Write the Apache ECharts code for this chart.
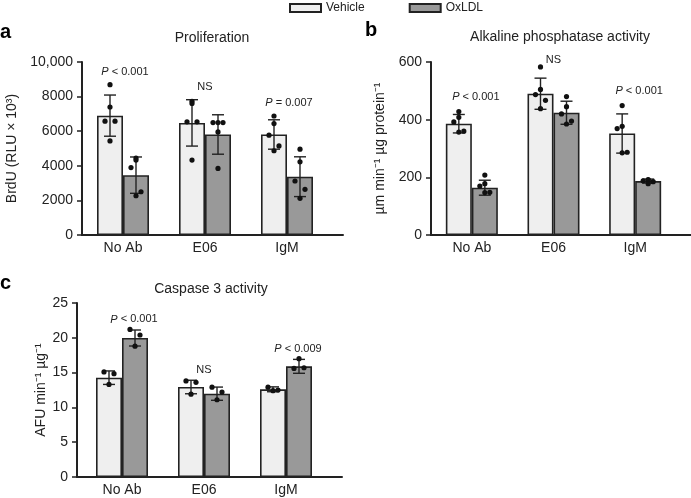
<!DOCTYPE html>
<html lang="en">
<head>
<meta charset="UTF-8">
<title>OxLDL panels</title>
<script src="https://cdn.jsdelivr.net/npm/echarts@6.0.0/dist/echarts.min.js"></script>
<style>
  html, body { margin: 0; padding: 0; background: #fff; }
  #main { width: 691px; height: 498px; }
</style>
</head>
<body>
<div id="main"></div>
<script>
var categories = ['No Ab', 'E06', 'IgM'];

// a: proliferation, BrdU (RLU x 10^3)
var prolifVehicle = [6900, 6480, 5810];
var prolifVehicleSd = [1190, 1340, 850];
var prolifOxldl = [3460, 5810, 3370];
var prolifOxldlSd = [1050, 1140, 1150];
var prolifVehicleDots = [[8690, 7400, 6580, 6580, 5440], [7730, 7600, 6540, 6540, 4330], [6880, 6440, 5770, 5150, 4870]];
var prolifOxldlDots = [[4450, 4330, 3900, 2500, 2270], [6500, 5960, 6500, 6500, 3850], [4960, 4230, 3120, 2640, 2120]];
var prolifStats = ['P < 0.001', 'NS', 'P = 0.007'];

// b: alkaline phosphatase activity
var alpVehicle = [386, 490, 352];
var alpVehicleSd = [32, 54, 68];
var alpOxldl = [164, 424, 187];
var alpOxldlSd = [26, 40, 7];
var alpVehicleDots = [[428, 408, 392, 360, 357], [583, 505, 487, 467, 438], [449, 377, 369, 287, 285]];
var alpOxldlDots = [[208, 178, 170, 148, 147], [480, 445, 420, 395, 385], [192, 190, 188, 185, 178]];
var alpStats = ['P < 0.001', 'NS', 'P < 0.001'];

// c: caspase 3 activity
var caspVehicle = [14.27, 12.93, 12.6];
var caspVehicleSd = [0.97, 0.97, 0.35];
var caspOxldl = [19.97, 11.97, 15.9];
var caspOxldlSd = [1.15, 0.95, 1.0];
var caspVehicleDots = [[15.1, 14.85, 13.3], [13.8, 13.6, 11.9], [12.9, 12.5, 12.4]];
var caspOxldlDots = [[21.2, 20.4, 18.8], [12.9, 12.2, 11.1], [15.6, 15.7, 17.0]];
var caspStats = ['P < 0.001', 'NS', 'P < 0.009'];

var FONT = '"Liberation Sans", Arial, Helvetica, sans-serif';
var INK = '#222';
var BAR_W = 26;
var JIT5 = [0, 0, -5, 5, 0];
var JIT3 = [-5, 5, 0];

var panels = [
  { letter: 'a', title: 'Proliferation', titleX: 212, titleY: 38, letterX: 0, letterY: 32,
    yName: 'BrdU (RLU × 10³)', max: 10000, step: 2000, nameGap: 63,
    veh: prolifVehicle, vehSd: prolifVehicleSd, ox: prolifOxldl, oxSd: prolifOxldlSd,
    vehDots: prolifVehicleDots, oxDots: prolifOxldlDots, stats: prolifStats,
    grid: { left: 82, top: 62, width: 246, height: 173 }, yOffset: 0, axisEnd: 343,
    statGap: 13, statShift: 2 },
  { letter: 'b', title: 'Alkaline phosphatase activity', titleX: 560, titleY: 37, letterX: 365, letterY: 30,
    yName: 'µm min⁻¹ µg protein⁻¹', max: 600, step: 200, nameGap: 44,
    veh: alpVehicle, vehSd: alpVehicleSd, ox: alpOxldl, oxSd: alpOxldlSd,
    vehDots: alpVehicleDots, oxDots: alpOxldlDots, stats: alpStats,
    grid: { left: 431, top: 62, width: 245, height: 173 }, yOffset: 0, axisEnd: 691,
    statGap: 15, statShift: 4 },
  { letter: 'c', title: 'Caspase 3 activity', titleX: 211, titleY: 289, letterX: 0, letterY: 283,
    yName: 'AFU min⁻¹ µg⁻¹', max: 25, step: 5, nameGap: 28,
    veh: caspVehicle, vehSd: caspVehicleSd, ox: caspOxldl, oxSd: caspOxldlSd,
    vehDots: caspVehicleDots, oxDots: caspOxldlDots, stats: caspStats,
    grid: { left: 81, top: 303, width: 246, height: 174 }, yOffset: 4, axisEnd: 342,
    statGap: 10, statShift: 12 }
];

var grids = [], xAxes = [], yAxes = [], series = [], graphics = [];

function markSeries(p, idx, which) {
  var mean = which ? p.ox : p.veh;
  var sd = which ? p.oxSd : p.vehSd;
  var dots = which ? p.oxDots : p.vehDots;
  var shift = which ? BAR_W / 2 : -BAR_W / 2;
  return {
    type: 'custom', xAxisIndex: idx, yAxisIndex: idx, z: 4, silent: true,
    data: mean.map(function (v, i) { return [i, v]; }),
    encode: { x: 0, y: 1 },
    renderItem: function (params, api) {
      var i = params.dataIndex;
      var x = api.coord([i, 0])[0] + shift;
      var yt = api.coord([i, mean[i] + sd[i]])[1];
      var yb = api.coord([i, mean[i] - sd[i]])[1];
      var ls = { stroke: INK, lineWidth: 1.4 };
      var kids = [
        { type: 'line', shape: { x1: x, y1: yt, x2: x, y2: yb }, style: ls },
        { type: 'line', shape: { x1: x - 6, y1: yt, x2: x + 6, y2: yt }, style: ls },
        { type: 'line', shape: { x1: x - 6, y1: yb, x2: x + 6, y2: yb }, style: ls }
      ];
      var jit = dots[i].length === 3 ? JIT3 : JIT5;
      dots[i].forEach(function (v, k) {
        var y = api.coord([i, v])[1];
        kids.push({ type: 'circle', shape: { cx: x + jit[k], cy: y, r: 2.6 }, style: { fill: '#111' } });
      });
      return { type: 'group', children: kids };
    }
  };
}

function statSeries(p, idx) {
  return {
    type: 'custom', xAxisIndex: idx, yAxisIndex: idx, z: 5, silent: true,
    data: p.stats.map(function (s, i) { return [i, p.veh[i]]; }),
    encode: { x: 0, y: 1 },
    renderItem: function (params, api) {
      var i = params.dataIndex;
      var hi = Math.max(p.veh[i] + p.vehSd[i], p.ox[i] + p.oxSd[i],
        Math.max.apply(null, p.vehDots[i]), Math.max.apply(null, p.oxDots[i]));
      var pt = api.coord([i, hi]);
      var topY = api.coord([i, p.max])[1];
      var txt = p.stats[i];
      var isP = txt.charAt(0) === 'P';
      return {
        type: 'text',
        x: pt[0] + (isP ? p.statShift : 0),
        y: Math.max(pt[1] - p.statGap, topY - 2),
        style: {
          text: isP ? '{i|P}' + txt.slice(1) : txt,
          align: 'center', verticalAlign: 'middle',
          fontSize: 11, fontFamily: FONT, fill: INK,
          rich: { i: { fontStyle: 'italic', fontSize: 11, fontFamily: FONT, color: INK } }
        }
      };
    }
  };
}

panels.forEach(function (p, idx) {
  grids[idx] = { left: p.grid.left, top: p.grid.top, width: p.grid.width, height: p.grid.height,
    containLabel: false, outerBoundsMode: 'none' };
  // helper grid that only carries the longer baseline
  grids[idx + 3] = { left: p.grid.left - p.yOffset, top: p.grid.top,
    width: p.axisEnd - (p.grid.left - p.yOffset), height: p.grid.height,
    containLabel: false, outerBoundsMode: 'none' };

  xAxes[idx] = {
    gridIndex: idx, type: 'category', data: categories,
    axisLine: { lineStyle: { color: INK, width: 2 } },
    axisTick: { show: false },
    axisLabel: { fontSize: 14, color: INK, margin: 6, fontFamily: FONT }
  };
  xAxes[idx + 3] = {
    gridIndex: idx + 3, type: 'value', min: 0, max: 1,
    axisLine: { show: true, onZero: false, lineStyle: { color: INK, width: 2 } },
    axisTick: { show: false }, axisLabel: { show: false }, splitLine: { show: false }
  };

  yAxes[idx] = {
    gridIndex: idx, type: 'value', min: 0, max: p.max, interval: p.step, offset: p.yOffset,
    name: p.yName, nameLocation: 'middle', nameGap: p.nameGap,
    nameTextStyle: { fontSize: 14, color: INK, fontFamily: FONT },
    axisLine: { show: true, lineStyle: { color: INK, width: 2 } },
    axisTick: { show: true, length: 5, lineStyle: { color: INK, width: 1.5 } },
    splitLine: { show: false },
    axisLabel: { fontSize: 14, color: INK, margin: 9, fontFamily: FONT,
      formatter: function (v) { return v >= 10000 ? String(v).replace(/(\d)(?=(\d{3})+$)/g, '$1,') : String(v); } }
  };
  yAxes[idx + 3] = { gridIndex: idx + 3, type: 'value', min: 0, max: 1, show: false };

  series.push({
    type: 'bar', name: 'Vehicle', xAxisIndex: idx, yAxisIndex: idx, data: p.veh,
    barWidth: BAR_W, barGap: '0%', silent: true,
    itemStyle: { color: '#efefef', borderColor: INK, borderWidth: 1.6 }
  });
  series.push({
    type: 'bar', name: 'OxLDL', xAxisIndex: idx, yAxisIndex: idx, data: p.ox,
    barWidth: BAR_W, barGap: '0%', silent: true,
    itemStyle: { color: '#999999', borderColor: INK, borderWidth: 1.6 }
  });
  series.push(markSeries(p, idx, 0));
  series.push(markSeries(p, idx, 1));
  series.push(statSeries(p, idx));

  graphics.push({ type: 'text', x: p.titleX, y: p.titleY,
    style: { text: p.title, align: 'center', verticalAlign: 'middle', fontSize: 14, fontFamily: FONT, fill: INK } });
  graphics.push({ type: 'text', x: p.letterX, y: p.letterY,
    style: { text: p.letter, align: 'left', verticalAlign: 'middle', fontSize: 20, fontWeight: 'bold', fontFamily: FONT, fill: '#000' } });
});

var chart = echarts.init(document.getElementById('main'));
chart.setOption({
  animation: false,
  textStyle: { fontFamily: FONT },
  legend: {
    data: ['Vehicle', 'OxLDL'], left: 289, top: 2, padding: 0, icon: 'rect',
    itemWidth: 31, itemHeight: 8, itemGap: 44, selectedMode: false,
    textStyle: { fontSize: 12, color: INK, fontFamily: FONT }
  },
  grid: grids,
  xAxis: xAxes,
  yAxis: yAxes,
  series: series,
  graphic: graphics
});
</script>
</body>
</html>
